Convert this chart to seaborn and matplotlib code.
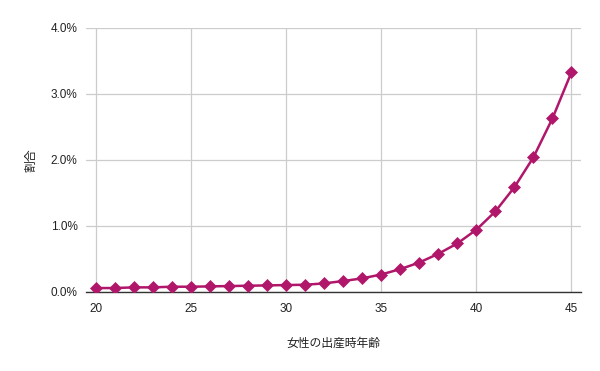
import matplotlib
matplotlib.use("Agg")
import matplotlib.pyplot as plt
import seaborn as sns
import pandas as pd
from matplotlib.ticker import FuncFormatter, MultipleLocator

ages = list(range(20, 46))
ratio = [0.060, 0.060, 0.070, 0.070, 0.080, 0.080, 0.085, 0.090, 0.095, 0.100,
         0.105, 0.110, 0.130, 0.166, 0.206, 0.265, 0.346, 0.446, 0.578, 0.735,
         0.943, 1.22, 1.587, 2.04, 2.63, 3.33]
x_label = "女性の出産時年齢"
y_label = "割合"

df = pd.DataFrame({"age": ages, "ratio": ratio})

sns.set_theme(style="white")
plt.rcParams["font.family"] = ["Liberation Sans", "Noto Sans CJK JP", "DejaVu Sans"]

fig = plt.figure(figsize=(6, 3.71), dpi=100)
ax = fig.add_axes([86/600, (371-292)/371, 495/600, 264/371])

color = "#B0176A"
sns.lineplot(data=df, x="age", y="ratio", ax=ax, color=color, linewidth=1.8,
             marker="D", markersize=6.5, markeredgecolor=color, markeredgewidth=0.5)

ax.set_xlim(19.5, 45.5)
ax.set_ylim(0, 4.0)
ax.xaxis.set_major_locator(MultipleLocator(5))
ax.yaxis.set_major_locator(MultipleLocator(1.0))
ax.yaxis.set_major_formatter(FuncFormatter(lambda v, p: f"{v:.1f}%"))

ax.grid(True, color="#cccccc", linewidth=0.9)
ax.set_axisbelow(True)
for s in ["top", "right", "left"]:
    ax.spines[s].set_visible(False)
ax.spines["bottom"].set_color("#333333")
ax.spines["bottom"].set_linewidth(1.0)
ax.spines["bottom"].set_zorder(1)

ax.tick_params(axis="both", length=0, labelsize=8.5, colors="#222222")
ax.tick_params(axis="y", pad=6)
ax.tick_params(axis="x", pad=8)

ax.set_xlabel(x_label, fontsize=8.5, color="#222222", labelpad=16)
ax.set_ylabel(y_label, fontsize=8.5, color="#222222", labelpad=10)

fig.savefig("out.png", dpi=100)
